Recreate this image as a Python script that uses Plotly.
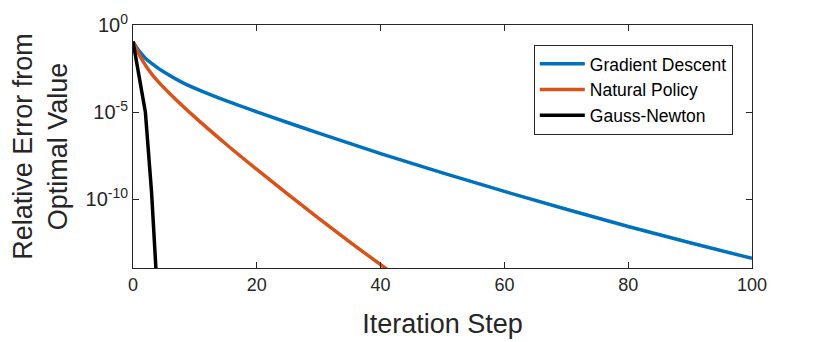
import plotly.graph_objects as go

# Data (log10 of relative error)
gd_iter = [0, 1, 2, 3, 5, 8, 12, 16, 20, 30, 40, 50, 60, 70, 80, 90, 100]
gd_log = [-0.95, -1.5, -1.9, -2.2, -2.7, -3.3, -3.92, -4.47, -4.98, -6.2, -7.37, -8.48, -9.54, -10.56, -11.55, -12.48, -13.38]

np_iter = [0, 1, 2, 3, 4, 6, 10, 15, 20, 25, 30, 35, 40, 42]
np_log = [-0.95, -1.7, -2.3, -2.8, -3.22, -3.95, -5.28, -6.82, -8.28, -9.7, -11.08, -12.43, -13.74, -14.25]

gn_iter = [0, 1, 2, 3, 4]
gn_log = [-0.95, -2.9, -5.0, -9.6, -15.8]

series_names = ["Gradient Descent", "Natural Policy", "Gauss-Newton"]
x_ticks = [0, 20, 40, 60, 80, 100]
y_tickvals = [1, 1e-5, 1e-10]
y_exponents = ["0", "-5", "-10"]

colors = ["#0072BD", "#D95319", "#000000"]
FONT = "Liberation Sans, Arial, Helvetica, sans-serif"
AX = "#262626"

y_ticktext = ["10<sup>%s</sup>" % e for e in y_exponents]

fig = go.Figure()
for name, xs, ls, c, shape in [
    (series_names[0], gd_iter, gd_log, colors[0], "spline"),
    (series_names[1], np_iter, np_log, colors[1], "spline"),
    (series_names[2], gn_iter, gn_log, colors[2], "linear"),
]:
    fig.add_trace(go.Scatter(
        x=xs, y=[10 ** v for v in ls], mode="lines", name=name,
        line=dict(color=c, width=3.5, shape=shape), cliponaxis=True,
    ))

fig.update_layout(
    width=830, height=342,
    margin=dict(l=125, r=86, t=17, b=82, autoexpand=False),
    paper_bgcolor="white", plot_bgcolor="white",
    font=dict(family=FONT, color=AX),
    showlegend=True,
    legend=dict(
        x=0.969, y=0.918, xanchor="right", yanchor="top",
        bgcolor="white", bordercolor=AX, borderwidth=1,
        font=dict(size=17.5, color="#000000", family=FONT),
        tracegroupgap=0, itemwidth=45,
    ),
)
fig.update_xaxes(
    range=[0, 100], tickvals=x_ticks, ticks="inside", ticklen=6, tickwidth=1,
    tickcolor=AX, showline=True, linecolor=AX, linewidth=1, mirror="allticks",
    showgrid=False, zeroline=False, tickfont=dict(size=18, color=AX),
    title=dict(text="Iteration Step", font=dict(size=27, color=AX), standoff=20),
)
fig.update_yaxes(
    type="log", range=[-13.93, 0], tickvals=y_tickvals, ticktext=y_ticktext,
    ticks="inside", ticklen=6, tickwidth=1, tickcolor=AX,
    showline=True, linecolor=AX, linewidth=1, mirror="allticks",
    showgrid=False, zeroline=False, tickfont=dict(size=20, color=AX),
    title=dict(text="Relative Error from<br>Optimal Value", font=dict(size=27, color=AX), standoff=18),
)
fig.write_html("out.html")
